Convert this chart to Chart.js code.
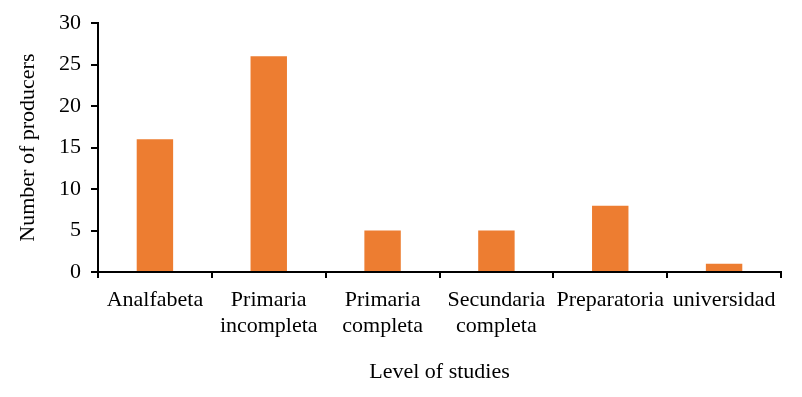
<!DOCTYPE html>
<html>
<head>
<meta charset="utf-8">
<script src="https://cdn.jsdelivr.net/npm/chart.js@4/dist/chart.umd.min.js"></script>
<style>
html,body{margin:0;padding:0;background:#fff;}
#wrap{width:802px;height:397px;position:relative;}
</style>
</head>
<body>
<div id="wrap"><canvas id="c" width="802" height="397"></canvas></div>
<script>
const categories = ["Analfabeta", ["Primaria","incompleta"], ["Primaria","completa"], ["Secundaria","completa"], "Preparatoria", "universidad"];
const producers = [16, 26, 5, 5, 8, 1];
const yTicks = [0, 5, 10, 15, 20, 25, 30];
const xTitle = "Level of studies";
const yTitle = "Number of producers";

const FONT = "'Liberation Serif', 'Times New Roman', serif";
const black = "#000000";

new Chart(document.getElementById('c'), {
  type: 'bar',
  data: {
    labels: categories,
    datasets: [{
      data: producers,
      backgroundColor: '#ED7D31',
      borderWidth: 0,
      categoryPercentage: 1,
      barPercentage: 0.32
    }]
  },
  options: {
    responsive: false,
    animation: false,
    events: [],
    layout: { padding: { top: 22, right: 21, bottom: 0, left: 0 } },
    plugins: { legend: { display: false }, tooltip: { enabled: false } },
    scales: {
      x: {
        offset: true,
        grid: { display: true, drawOnChartArea: false, drawTicks: true, tickLength: 6, offset: true, color: black, lineWidth: 2 },
        border: { display: true, color: black, width: 2 },
        ticks: { color: black, font: { family: FONT, size: 22, lineHeight: 1.2 }, padding: 9, maxRotation: 0, autoSkip: false },
        title: { display: true, text: xTitle, color: black, font: { family: FONT, size: 22, lineHeight: 1.2 }, padding: { top: 12, bottom: 12 } },
        afterFit: (s) => { s.height = 125; }
      },
      y: {
        min: yTicks[0],
        max: yTicks[yTicks.length - 1],
        afterBuildTicks: (s) => { s.ticks = yTicks.map(v => ({ value: v })); },
        grid: { display: true, drawOnChartArea: false, drawTicks: true, tickLength: 7, color: black, lineWidth: 2 },
        border: { display: true, color: black, width: 2 },
        ticks: { color: black, font: { family: FONT, size: 22 }, padding: 10 },
        title: { display: true, text: yTitle, color: black, font: { family: FONT, size: 22, lineHeight: 1.2 }, padding: { top: 15, bottom: 15 } },
        afterFit: (s) => { s.width = 98; }
      }
    }
  }
});
</script>
</body>
</html>
